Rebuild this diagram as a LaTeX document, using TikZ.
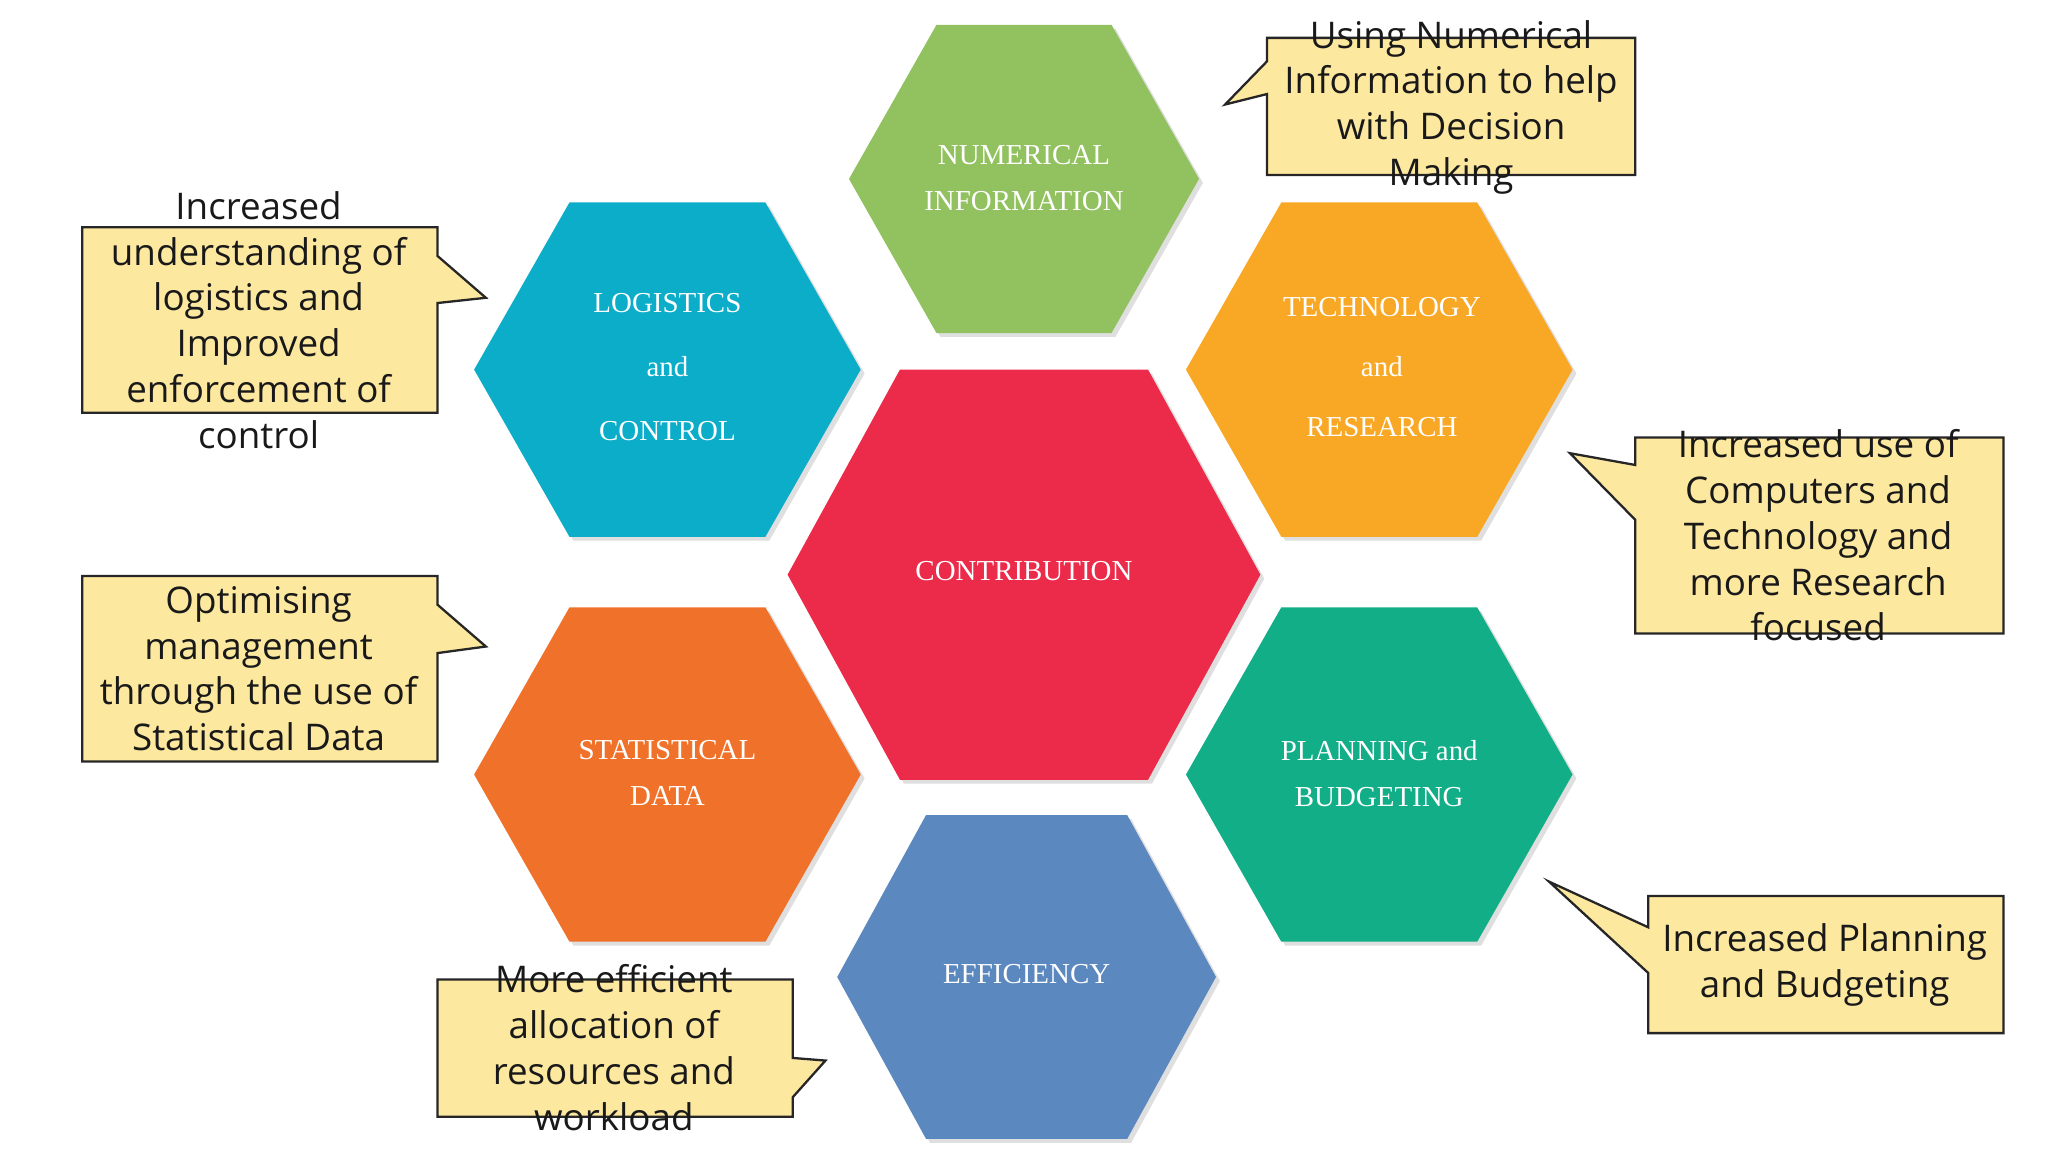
\documentclass[tikz,border=0pt]{standalone}
\usepackage{fontspec}
\setmainfont{Open Sans}
\newfontfamily\hexfont{Liberation Serif}
\definecolor{cgreen}{HTML}{92C160}
\definecolor{cblue}{HTML}{0BADC9}
\definecolor{corange}{HTML}{F9A825}
\definecolor{cred}{HTML}{EC2A4A}
\definecolor{corg}{HTML}{F0712A}
\definecolor{cteal}{HTML}{12AE88}
\definecolor{csteel}{HTML}{5B88BE}
\definecolor{cyel}{HTML}{FDE8A0}
\tikzset{
 hexlabel/.style={text=white,font=\hexfont\fontsize{6.3}{10}\selectfont,align=center},
 callbox/.style={fill=cyel,draw=black!85,line width=0.5pt},
 calltext/.style={font=\fontsize{8}{9.96}\selectfont,align=center,text=black!90},
}
\newcommand{\hexa}[6]{% cx cy halfw topw halfh color
 \fill[black!25,opacity=0.5] (#1+#3+3,#2+3) -- (#1+#4+3,#2+#5+3) -- (#1-#4+3,#2+#5+3) -- (#1-#3+3,#2+3) -- (#1-#4+3,#2-#5+3) -- (#1+#4+3,#2-#5+3) -- cycle;
 \fill[#6] (#1+#3,#2) -- (#1+#4,#2+#5) -- (#1-#4,#2+#5) -- (#1-#3,#2) -- (#1-#4,#2-#5) -- (#1+#4,#2-#5) -- cycle;}
\begin{document}
\begin{tikzpicture}[x=0.01cm,y=-0.01cm]
\useasboundingbox (0,0) rectangle (1568,882);
\hexa{784}{137}{134}{67}{118}{cgreen}
\hexa{511}{283}{148}{75}{128}{cblue}
\hexa{1056}{283}{148}{75}{128}{corange}
\hexa{784}{440}{181}{95}{157}{cred}
\hexa{511}{593}{148}{75}{128}{corg}
\hexa{1056}{593}{148}{75}{128}{cteal}
\hexa{786}{748}{145}{77}{124}{csteel}
\node[hexlabel] (num) at (784,136) {NUMERICAL\\[0pt]INFORMATION};
\node[hexlabel,font=\hexfont\fontsize{6.3}{14}\selectfont] (log) at (511,281) {LOGISTICS\\and\\CONTROL};
\node[hexlabel,font=\hexfont\fontsize{6.3}{13}\selectfont] (tech) at (1058,281) {TECHNOLOGY\\and\\RESEARCH};
\node[hexlabel] (con) at (784,437) {CONTRIBUTION};
\node[hexlabel] (stat) at (511,592) {STATISTICAL\\DATA};
\node[hexlabel] (plan) at (1056,592) {PLANNING and\\BUDGETING};
\node[hexlabel] (eff) at (786,746) {EFFICIENCY};
% callouts
\draw[callbox] (970,29) -- (970,47) -- (938,80) -- (970,72) -- (970,134) -- (1252,134) -- (1252,29) -- cycle;
\node[calltext] (c1) at (1111,82) {Using Numerical\\Information to help\\with Decision\\Making};
\draw[callbox] (63,174) -- (335,174) -- (335,196) -- (372,228) -- (335,232) -- (335,316) -- (63,316) -- cycle;
\node[calltext] (c2) at (198,245) {Increased\\understanding of\\logistics and\\Improved\\enforcement of\\control};
\draw[callbox] (63,441) -- (335,441) -- (335,463) -- (372,495) -- (335,500) -- (335,583) -- (63,583) -- cycle;
\node[calltext] (c3) at (198,512) {Optimising\\management\\through the use of\\Statistical Data};
\draw[callbox] (335,750) -- (607,750) -- (607,810) -- (632,812) -- (607,840) -- (607,855) -- (335,855) -- cycle;
\node[calltext] (c4) at (470,802) {More efficient\\allocation of\\resources and\\workload};
\draw[callbox] (1252,335) -- (1534,335) -- (1534,485) -- (1252,485) -- (1252,398) -- (1202,347) -- (1252,356) -- cycle;
\node[calltext] (c5) at (1392,410) {Increased use of\\Computers and\\Technology and\\more Research\\focused};
\draw[callbox] (1262,686) -- (1534,686) -- (1534,791) -- (1262,791) -- (1262,745) -- (1186,675) -- (1262,710) -- cycle;
\node[calltext] (c6) at (1397,739) {Increased Planning\\and Budgeting};
\end{tikzpicture}
\end{document}
